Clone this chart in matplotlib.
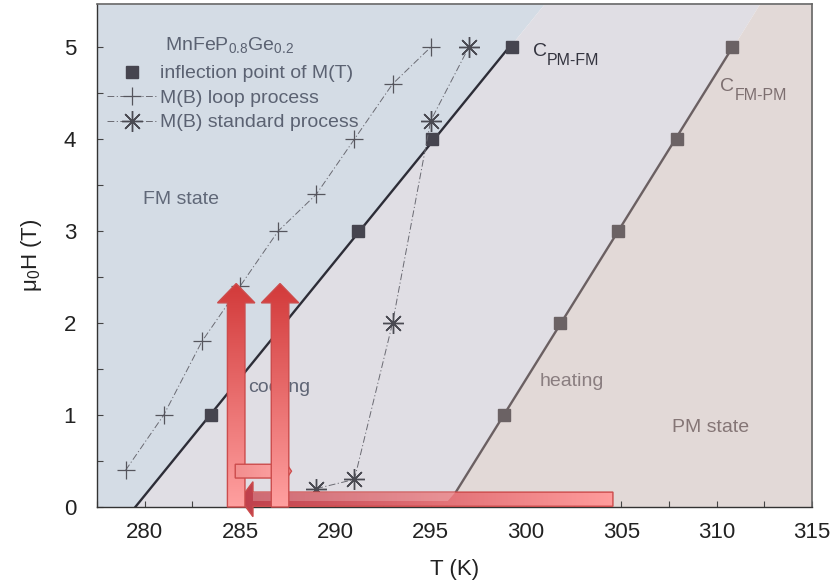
import numpy as np
import matplotlib
matplotlib.use("Agg")
import matplotlib.pyplot as plt
from matplotlib.patches import Polygon
from matplotlib.colors import LinearSegmentedColormap
from matplotlib.ticker import MultipleLocator

plt.rcParams['font.family'] = ['Liberation Sans', 'DejaVu Sans']
plt.rcParams['mathtext.fontset'] = 'custom'
plt.rcParams['mathtext.rm'] = 'Liberation Sans'
plt.rcParams['mathtext.it'] = 'Liberation Sans:italic'

# axis ranges
T_MIN, T_MAX = 277.5, 315.0
H_MIN, H_MAX = 0.0, 5.47
t_major = [280, 285, 290, 295, 300, 305, 310, 315]
h_major = [0, 1, 2, 3, 4, 5]

# inflection points of M(T): PM->FM on cooling, FM->PM on heating
pmfm_field = [1, 3, 4, 5]
pmfm_temp = [283.5, 291.2, 295.05, 299.25]
fmpm_field = [1, 2, 3, 4, 5]
fmpm_temp = [298.85, 301.8, 304.82, 307.9, 310.8]

# transition points from field sweeps M(B)
loop_temp = [279, 281, 283, 285, 287, 289, 291, 293, 295]
loop_field = [0.4, 1.0, 1.8, 2.4, 3.0, 3.4, 4.0, 4.6, 5.0]
std_temp = [289, 291, 293, 295, 297]
std_field = [0.2, 0.3, 2.0, 4.2, 5.0]

# process arrows (temperature in K, field in T)
up_arrow_temp = [284.8, 287.1]
up_arrow_field = [0.0, 2.43]
cool_arrow_temp = [304.56, 285.0]
cool_arrow_field = 0.085
step_arrow_temp = [284.75, 287.7]
step_arrow_field = 0.39

C_FM = '#d4dce5'
C_MID = '#e0dee4'
C_PM = '#e2d9d7'
TXT = '#5b6272'

fig = plt.figure(figsize=(8.36, 5.86), dpi=100)
ax = fig.add_axes([97 / 836, 1 - 507 / 586, 715 / 836, 503 / 586])

# phase regions bounded by linear fits of the inflection points
k1, b1 = np.polyfit(pmfm_field, pmfm_temp, 1)
k2, b2 = np.polyfit(fmpm_field, fmpm_temp, 1)
hh = np.linspace(H_MIN, H_MAX, 60)
ax.fill_betweenx(hh, T_MIN, k1 * hh + b1, color=C_FM, lw=0, zorder=0)
ax.fill_betweenx(hh, k1 * hh + b1, k2 * hh + b2, color=C_MID, lw=0, zorder=0)
ax.fill_betweenx(hh, k2 * hh + b2, T_MAX, color=C_PM, lw=0, zorder=0)

hl = np.array([0.0, 5.0])
ax.plot(k1 * hl + b1, hl, color='#2d2d37', lw=1.7, zorder=2)
ax.plot(k2 * hl + b2, hl, color='#6b6062', lw=1.7, zorder=2)

sq_pmfm, = ax.plot(pmfm_temp, pmfm_field, 's', ms=8, color='#46454f', zorder=3)
ax.plot(fmpm_temp, fmpm_field, 's', ms=8, color='#6b6264', zorder=3)

dashdot = (0, (7, 2.5, 1.2, 2.5))
loop_line, = ax.plot(loop_temp, loop_field, linestyle=dashdot, lw=0.7, color='#6a6a72',
                     marker='+', ms=13, mew=0.9, mec='#55555d', zorder=3)
std_line, = ax.plot(std_temp, std_field, linestyle=dashdot, lw=0.7, color='#6a6a72',
                    marker=(8, 2, 0), ms=15, mew=1.0, mec='#4a4a52', zorder=3)

ax.text(281.07, 5.02, 'MnFeP$_\\mathregular{0.8}$Ge$_\\mathregular{0.2}$', fontsize=14,
        color=TXT, va='center', zorder=4)
leg = ax.legend([sq_pmfm, loop_line, std_line],
                ['inflection point of M(T)', 'M(B) loop process', 'M(B) standard process'],
                loc='upper left', bbox_to_anchor=(0.014, 0.879), frameon=False,
                fontsize=14, handlelength=2.6, handletextpad=0.1,
                labelspacing=0.35, borderpad=0, borderaxespad=0, numpoints=1,
                labelcolor=TXT)
leg.set_zorder(4)

# region and curve labels
ax.text(279.9, 3.34, 'FM state', fontsize=14, color='#606878', va='center', zorder=3)
ax.text(285.4, 1.30, 'cooling', fontsize=14, color='#5f6575', va='center', zorder=3)
ax.text(300.73, 1.36, 'heating', fontsize=14, color='#8a7e80', va='center', zorder=3)
ax.text(307.65, 0.86, 'PM state', fontsize=14, color='#857676', va='center', zorder=3)

ax.text(300.36, 4.95, 'C', fontsize=14, color='#34343f', va='center', zorder=3)
ax.annotate('PM-FM', xy=(300.36, 4.95), xytext=(10, -6.5), textcoords='offset points',
            fontsize=11.5, color='#34343f', va='center', zorder=3)
ax.text(310.17, 4.57, 'C', fontsize=14, color='#7d6f70', va='center', zorder=3)
ax.annotate('FM-PM', xy=(310.17, 4.57), xytext=(10.8, -6), textcoords='offset points',
            fontsize=11.5, color='#7d6f70', va='center', zorder=3)


def shaded_arrow(verts, c0, c1, horizontal, z, edge='#cc4c4c'):
    # solid underlay so parts outside the axes box still show
    ax.add_patch(Polygon(verts, closed=True, transform=ax.transData, fc=c0, lw=0,
                         zorder=z - 0.05, clip_on=False))
    poly = Polygon(verts, closed=True, transform=ax.transData, fc='none', ec=edge,
                   lw=1.0, zorder=z + 0.1, clip_on=False, joinstyle='miter')
    ax.add_patch(poly)
    xs = [v[0] for v in verts]
    ys = [v[1] for v in verts]
    g = np.linspace(0, 1, 256)
    img = g[None, :] if horizontal else g[:, None]
    cmap = LinearSegmentedColormap.from_list('arrow', [c0, c1])
    im = ax.imshow(img, cmap=cmap, extent=(min(xs), max(xs), min(ys), max(ys)),
                   origin='lower', aspect='auto', interpolation='bilinear', zorder=z)
    im.set_clip_box(fig.bbox)
    im.set_clip_path(poly)
    return poly


# long cooling arrow at nearly zero field
x0, x1 = cool_arrow_temp
yc = cool_arrow_field
hw, w, hlen = 0.19, 0.077, 0.68
xb = x1 + hlen
shaded_arrow([(x0, yc - w), (x0, yc + w), (xb, yc + w), (xb, yc + hw), (x1, yc),
              (xb, yc - hw), (xb, yc - w)], '#bf3f4b', '#ff9c9c', True, 6)
ax.add_patch(Polygon([(xb, yc + w), (296.3, yc + w), (295.9, yc - 0.02), (xb, yc - 0.02)],
                     closed=True, fc='white', alpha=0.22, lw=0, zorder=6.2))


def up_arrow_verts(tc):
    y0, y1 = up_arrow_field
    w, hwd, hlen = 0.46, 0.98, 0.21
    return [(tc - w, y0), (tc + w, y0), (tc + w, y1 - hlen), (tc + hwd, y1 - hlen),
            (tc, y1), (tc - hwd, y1 - hlen), (tc - w, y1 - hlen)]


shaded_arrow(up_arrow_verts(up_arrow_temp[0]), '#ffa0a0', '#d23a3a', False, 7)

# short step arrow between the two field ramps
s0, s1 = step_arrow_temp
ys = step_arrow_field
sb = s1 - 0.42
shaded_arrow([(s0, ys - 0.075), (s0, ys + 0.075), (sb, ys + 0.075), (sb, ys + 0.13), (s1, ys),
              (sb, ys - 0.13), (sb, ys - 0.075)], '#f28e8e', '#ffa6a6', True, 8)

shaded_arrow(up_arrow_verts(up_arrow_temp[1]), '#ffa0a0', '#d23a3a', False, 9)

ax.set_xlim(T_MIN, T_MAX)
ax.set_ylim(H_MIN, H_MAX)
ax.set_xticks(t_major)
ax.set_yticks(h_major)
ax.xaxis.set_minor_locator(MultipleLocator(2.5))
ax.yaxis.set_minor_locator(MultipleLocator(0.5))
ax.tick_params(which='both', direction='in', length=4.5, width=0.8, color='#444444',
               top=False, right=False)
ax.tick_params(which='major', labelsize=16, labelcolor='#222222')
ax.tick_params(axis='x', which='major', pad=10.5)
ax.tick_params(axis='y', which='major', pad=15)

for side in ['left', 'bottom']:
    ax.spines[side].set_color('#333333')
    ax.spines[side].set_linewidth(1.0)
for side in ['top', 'right']:
    ax.spines[side].set_color('#666666')
    ax.spines[side].set_linewidth(1.2)
for sp in ax.spines.values():
    sp.set_zorder(5)

ax.set_xlabel('T (K)', fontsize=16, color='#222222', labelpad=12)
ax.set_ylabel('μ$_\\mathregular{0}$H (T)', fontsize=16, color='#222222', labelpad=14)

fig.savefig('out.png', dpi=100)
